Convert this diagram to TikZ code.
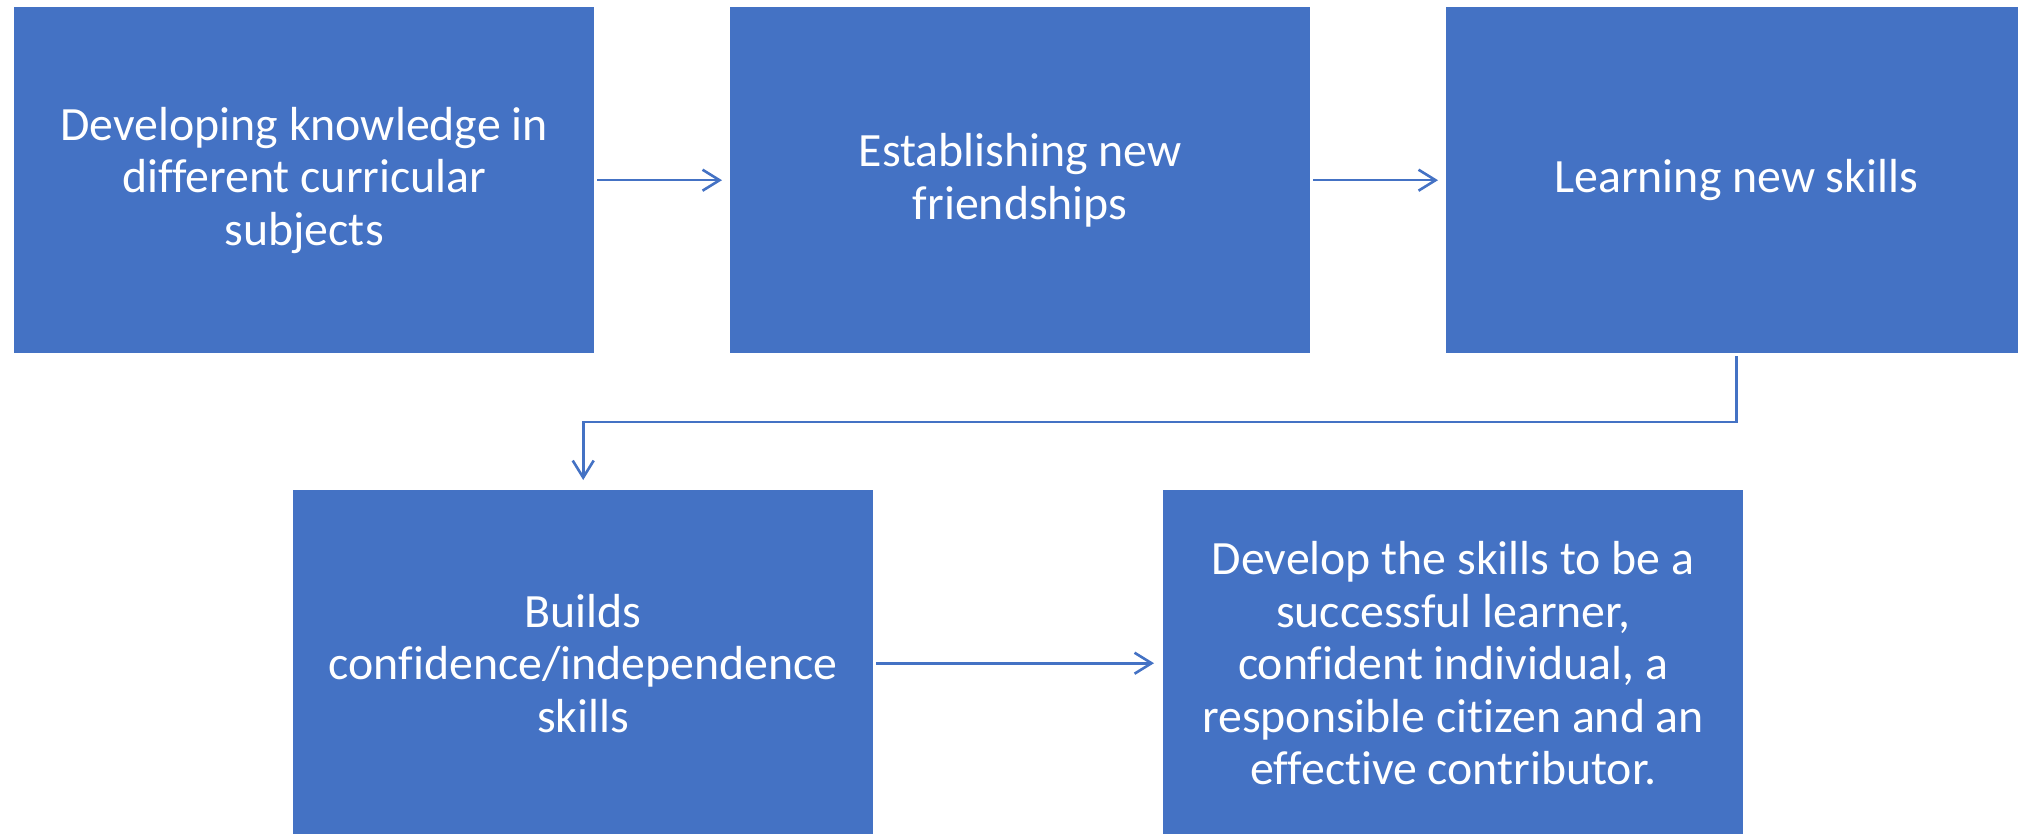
\documentclass[tikz,border=0pt]{standalone}
\usepackage{fontspec}
\setmainfont{Carlito}[Ligatures=NoCommon]
\usetikzlibrary{arrows.meta}
\definecolor{boxblue}{HTML}{4472C4}
\begin{document}
\begin{tikzpicture}[x=1pt,y=-1pt,
  flowbox/.style={rectangle, fill=boxblue, draw=none, minimum width=580pt, minimum height=346pt,
    anchor=north west, text=white, align=center, inner sep=0pt,
    font=\fontsize{47.8}{52.5}\selectfont},
  conn/.style={draw=boxblue, line width=2.6pt, -{Straight Barb[length=17pt,width=21pt,line width=2.6pt]}}]
\useasboundingbox (0,0) rectangle (2018,834);
\clip (0,0) rectangle (2018,834);
\node[flowbox] (b1) at (14,7) {Developing knowledge in\\different curricular\\subjects};
\node[flowbox] (b2) at (730,7) {Establishing new\\friendships};
\node[flowbox] (b3) at (1446,7) {Learning new skills};
\node[flowbox] (b4) at (293,490) {Builds\\confidence/independence\\skills};
\node[flowbox] (b5) at (1163,490) {Develop the skills to be a\\successful learner,\\confident individual, a\\responsible citizen and an\\effective contributor.};
\coordinate (turn) at (0,422);
\draw[conn, shorten <=3pt, shorten >=8pt] (b1.east) -- (b2.west);
\draw[conn, shorten <=3pt, shorten >=8pt] (b2.east) -- (b3.west);
\draw[conn, shorten <=3pt, shorten >=10pt] (b3.south) -- (b3.south |- turn) -| (b4.north);
\draw[conn, shorten <=3pt, shorten >=9pt] (b4.east) -- (b5.west);
\end{tikzpicture}
\end{document}
